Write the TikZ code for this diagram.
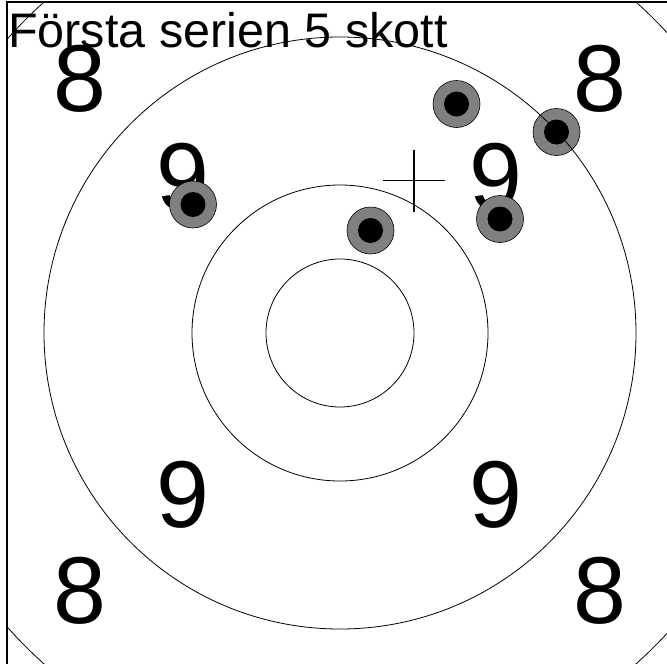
\documentclass[tikz,border=0pt]{standalone}
\usepackage{fontspec}
\setmainfont{Liberation Sans}
\begin{document}
\begin{tikzpicture}[x=1pt,y=-1pt,
  ring/.style={draw=black,line width=0.8pt},
  score/.style={inner sep=0pt,font=\fontsize{95}{95}\selectfont},
  shotouter/.style={circle,draw=black,line width=0.6pt,fill=gray,minimum size=47pt,inner sep=0pt},
  shotinner/.style={circle,fill=black,minimum size=25pt,inner sep=0pt},
  frameline/.style={draw=black,line width=1.5pt},
  crossline/.style={draw=black,line width=1.8pt}]
\useasboundingbox (0,0) rectangle (667,664);
\coordinate (c) at (340,333);
% scores
\node[score] (e1) at (80,79) {8};
\node[score] (e2) at (600,79) {8};
\node[score] (e3) at (80,591) {8};
\node[score] (e4) at (600,591) {8};
\node[score] (n1) at (183,177) {9};
\node[score] (n2) at (496,177) {9};
\node[score] (n3) at (183,495) {9};
\node[score] (n4) at (496,495) {9};
% shots
\foreach \p/\n in {{456.5,104}/s1,{556.5,132}/s2,{193,204.5}/s3,{370.5,230.5}/s4,{500,219}/s5}{
  \node[shotouter] (\n o) at (\p) {};
  \node[shotinner] (\n i) at (\p) {};
}
% rings
\begin{scope}
\clip (7,2) rectangle (667,664);
\draw[ring] (c) circle[radius=74];
\draw[ring] (c) circle[radius=148];
\draw[ring] (c) circle[radius=296];
\draw[ring] (c) circle[radius=444];
\end{scope}
% frame
\coordinate (ftl) at (7,2);
\coordinate (fbl) at (7,664);
\coordinate (ftr) at (667,2);
\draw[frameline] (fbl) -- (ftl) -- (ftr);
% aim cross
\coordinate (x1) at (383,180.5);
\coordinate (x2) at (445,180.5);
\coordinate (y1) at (414,149.5);
\coordinate (y2) at (414,211.5);
\draw[crossline] (x1) -- (x2);
\draw[crossline] (y1) -- (y2);
% title
\node[anchor=base west,inner sep=0pt,font=\fontsize{48.5}{48.5}\selectfont] (title) at (8,47) {Första serien 5 skott};
\end{tikzpicture}
\end{document}
